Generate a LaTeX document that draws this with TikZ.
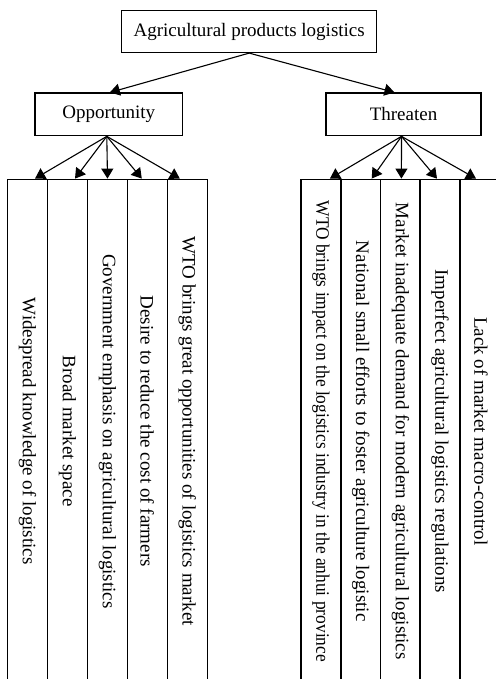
\documentclass[tikz,border=0pt]{standalone}
\usepackage{fontspec}
\setmainfont{Liberation Serif}
\usetikzlibrary{arrows.meta}
\begin{document}
\begin{tikzpicture}[x=1pt,y=1pt,
  box/.style={draw,line width=1.2pt,inner sep=0pt,font=\fontsize{19}{22}\selectfont},
  col/.style={draw,line width=1.4pt,minimum width=40pt,minimum height=504pt,inner sep=0pt,font=\fontsize{19}{22}\selectfont},
  arr/.style={line width=1.1pt,-{Triangle[length=10pt,width=12pt]}}]
\useasboundingbox (0,0) rectangle (495,-679);
\node[box,minimum width=255pt,minimum height=42pt] (top) at (249.2,-31.5) {Agricultural products logistics};
\node[box,minimum width=147.7pt,minimum height=42.7pt] (opp) at (108.8,-114.4) {Opportunity};
\node[box,minimum width=155pt,minimum height=42.7pt] (thr) at (403.5,-114.4) {Threaten};
% left group
\node[col] (o1) at (27.5,-431.3) {\rotatebox{-90}{Widespread knowledge of logistics}};
\node[col] (o2) at (67.5,-431.3) {\rotatebox{-90}{Broad market space}};
\node[col] (o3) at (107.5,-431.3) {\rotatebox{-90}{Government emphasis on agricultural logistics}};
\node[col] (o4) at (147.3,-431.3) {\rotatebox{-90}{Desire to reduce the cost of farmers}};
\node[col] (o5) at (187.3,-431.3) {\rotatebox{-90}{WTO brings great opportunities of logistics market}};
% right group
\node[col] (t1) at (320.9,-431.3) {\rotatebox{-90}{\scalebox{0.915}[1]{WTO brings impact on the logistics industry in the anhui province}}};
\node[col] (t2) at (360.7,-431.3) {\rotatebox{-90}{National small efforts to foster agriculture logistic}};
\node[col] (t3) at (400.4,-431.3) {\rotatebox{-90}{Market inadequate demand for modern agricultural logistics}};
\node[col] (t4) at (440,-431.3) {\rotatebox{-90}{Imperfect agricultural logistics regulations}};
\node[col,minimum width=42pt] (t5) at (481,-431.3) {\rotatebox{-90}{Lack of market macro-control}};
% arrows
\draw[arr] (top.south) -- ([xshift=1pt]opp.north);
\draw[arr] (top.south) -- ([xshift=-9pt]thr.north);
\draw[arr] ([xshift=-2pt]opp.south) -- ([xshift=7.5pt]o1.north);
\draw[arr] ([xshift=-2pt]opp.south) -- ([xshift=7.5pt]o2.north);
\draw[arr] ([xshift=-2pt]opp.south) -- ([xshift=0pt]o3.north);
\draw[arr] ([xshift=-2pt]opp.south) -- ([xshift=-5.5pt]o4.north);
\draw[arr] ([xshift=-2pt]opp.south) -- ([xshift=-7.5pt]o5.north);
\draw[arr] ([xshift=-2pt]thr.south) -- ([xshift=9pt]t1.north);
\draw[arr] ([xshift=-2pt]thr.south) -- ([xshift=11pt]t2.north);
\draw[arr] ([xshift=-2pt]thr.south) -- ([xshift=1pt]t3.north);
\draw[arr] ([xshift=-2pt]thr.south) -- ([xshift=-3pt]t4.north);
\draw[arr] ([xshift=-2pt]thr.south) -- ([xshift=-5pt]t5.north);
\end{tikzpicture}
\end{document}
